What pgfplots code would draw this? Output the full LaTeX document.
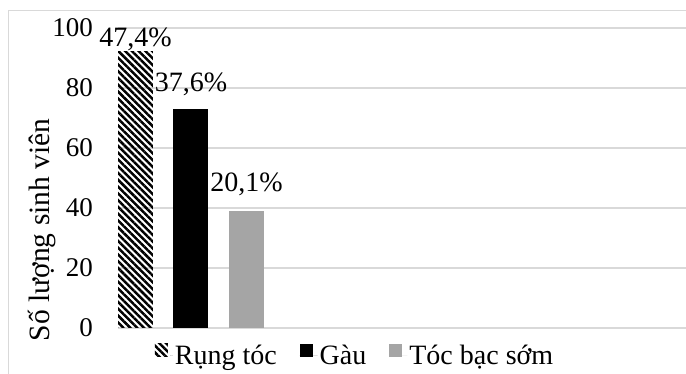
\documentclass[border=0pt]{standalone}
\usepackage{pgfplots}
\pgfplotsset{compat=1.18}
\usepackage{fontspec}
\setmainfont{Liberation Serif}
\usetikzlibrary{patterns.meta}
\definecolor{gridc}{HTML}{D9D9D9}
\definecolor{barg}{HTML}{A5A5A5}
\begin{document}
\begin{tikzpicture}
\useasboundingbox (0,0) rectangle (686pt,374pt);
\draw[gridc, line width=1pt] (8pt,-5pt) -- (8pt,363pt) -- (700pt,363pt);
\begin{axis}[
  at={(118pt,46pt)}, anchor=south west,
  scale only axis, width=568pt, height=300pt,
  xmin=-0.315, xmax=9.92, ymin=0, ymax=100,
  ytick={0,20,...,100}, xtick=\empty,
  ymajorgrids, grid style={gridc, line width=1.2pt},
  axis line style={draw=none},
  major tick length=0pt,
  tick label style={font=\fontsize{27}{31}\selectfont},
  /pgf/number format/assume math mode=true,
  yticklabel style={inner sep=0pt, xshift=-25pt},
  ylabel={Số lượng sinh viên},
  ylabel style={at={([xshift=-76pt]axis description cs:0,0.327)}, anchor=center, font=\fontsize{29.5}{34}\selectfont},
  legend columns=3,
  legend image code/.code={\fill[#1] (0pt,-1pt) rectangle (13pt,12pt); \path (0pt,0pt) -- (18pt,0pt);},
  legend style={at={(axis description cs:0.4173,-0.0933)}, anchor=center, draw=none, fill=none,
    font=\fontsize{28}{32}\selectfont,
    /tikz/every even column/.append style={column sep=21pt}},
  every node near coord/.append style={anchor=base, inner sep=0pt, font=\fontsize{28}{32}\selectfont, text=black},
]
\addplot[ybar, bar width=35pt, bar shift=0pt, draw=none,
  pattern={Lines[angle=-45,distance=4.8pt,line width=2.5pt]}, pattern color=black,
  nodes near coords={47,4\%},
  every node near coord/.append style={yshift=5pt}] coordinates {(0,92)};
\addlegendentry{Rụng tóc}
\addplot[ybar, bar width=35pt, bar shift=0pt, draw=none, fill=black,
  nodes near coords={37,6\%},
  every node near coord/.append style={yshift=17pt}] coordinates {(1,73)};
\addlegendentry{Gàu}
\addplot[ybar, bar width=35pt, bar shift=0pt, draw=none, fill=barg,
  nodes near coords={20,1\%},
  every node near coord/.append style={yshift=19pt}] coordinates {(2,39)};
\addlegendentry{Tóc bạc sớm}
\end{axis}
\end{tikzpicture}
\end{document}
